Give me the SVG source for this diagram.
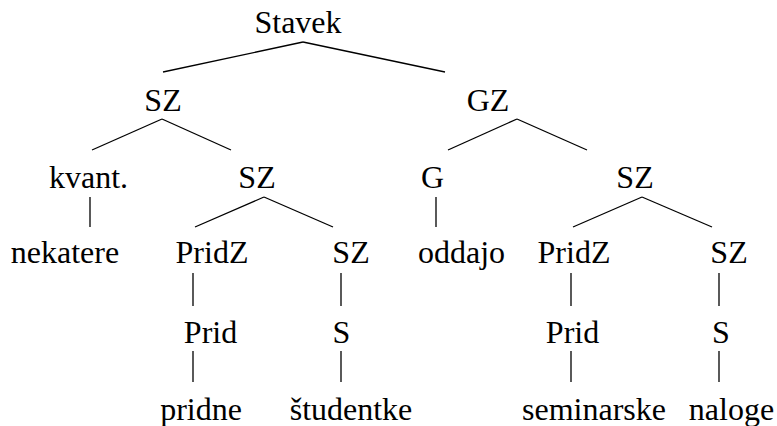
<svg xmlns="http://www.w3.org/2000/svg" width="777" height="426" viewBox="0 0 777 426">
<defs>
<style>
#edges line{stroke:#000;stroke-width:1.3;fill:none}
</style>
</defs>
<rect width="777" height="426" fill="#fff"/>
<g id="edges">
<line x1="303" y1="42" x2="163" y2="72"/>
<line x1="303" y1="42" x2="445" y2="72"/>
<line x1="162" y1="119" x2="92" y2="150"/>
<line x1="162" y1="119" x2="231" y2="150"/>
<line x1="517" y1="119" x2="448" y2="150"/>
<line x1="517" y1="119" x2="587" y2="150"/>
<line x1="90" y1="197" x2="90" y2="227"/>
<line x1="264" y1="197" x2="195" y2="227"/>
<line x1="264" y1="197" x2="333" y2="227"/>
<line x1="436" y1="197" x2="436" y2="227"/>
<line x1="642" y1="197" x2="573" y2="227"/>
<line x1="642" y1="197" x2="712" y2="227"/>
<line x1="193" y1="273" x2="193" y2="306"/>
<line x1="341" y1="273" x2="341" y2="306"/>
<line x1="571" y1="273" x2="571" y2="306"/>
<line x1="719" y1="273" x2="719" y2="306"/>
<line x1="193" y1="351" x2="193" y2="382"/>
<line x1="341" y1="351" x2="341" y2="382"/>
<line x1="571" y1="351" x2="571" y2="382"/>
<line x1="719" y1="351" x2="719" y2="382"/>
</g>
<g id="nodes" font-family="Liberation Serif, serif" font-size="32" text-anchor="middle" fill="#000">
<g id="n-stavek"><text x="298" y="33">Stavek</text></g>
<g id="n-sz1"><text x="163" y="111">SZ</text></g>
<g id="n-gz"><text x="488" y="111">GZ</text></g>
<g id="n-kvant"><text x="88.5" y="188">kvant.</text></g>
<g id="n-sz2"><text x="257" y="188">SZ</text></g>
<g id="n-g"><text x="432.5" y="188">G</text></g>
<g id="n-sz3"><text x="635" y="188">SZ</text></g>
<g id="n-nekatere"><text x="65" y="263">nekatere</text></g>
<g id="n-pridz1"><text x="212" y="263">PridZ</text></g>
<g id="n-sz4"><text x="351" y="263">SZ</text></g>
<g id="n-oddajo"><text x="461.5" y="263">oddajo</text></g>
<g id="n-pridz2"><text x="574" y="263">PridZ</text></g>
<g id="n-sz5"><text x="729" y="263">SZ</text></g>
<g id="n-prid1"><text x="210.5" y="343">Prid</text></g>
<g id="n-s1"><text x="341.5" y="343">S</text></g>
<g id="n-prid2"><text x="572.5" y="343">Prid</text></g>
<g id="n-s2"><text x="721" y="343">S</text></g>
<g id="n-pridne"><text x="201" y="420">pridne</text></g>
<g id="n-studentke"><text x="351" y="420">&#353;tudentke</text></g>
<g id="n-seminarske"><text x="594" y="420">seminarske</text></g>
<g id="n-naloge"><text x="731.5" y="420">naloge</text></g>
</g>
</svg>
